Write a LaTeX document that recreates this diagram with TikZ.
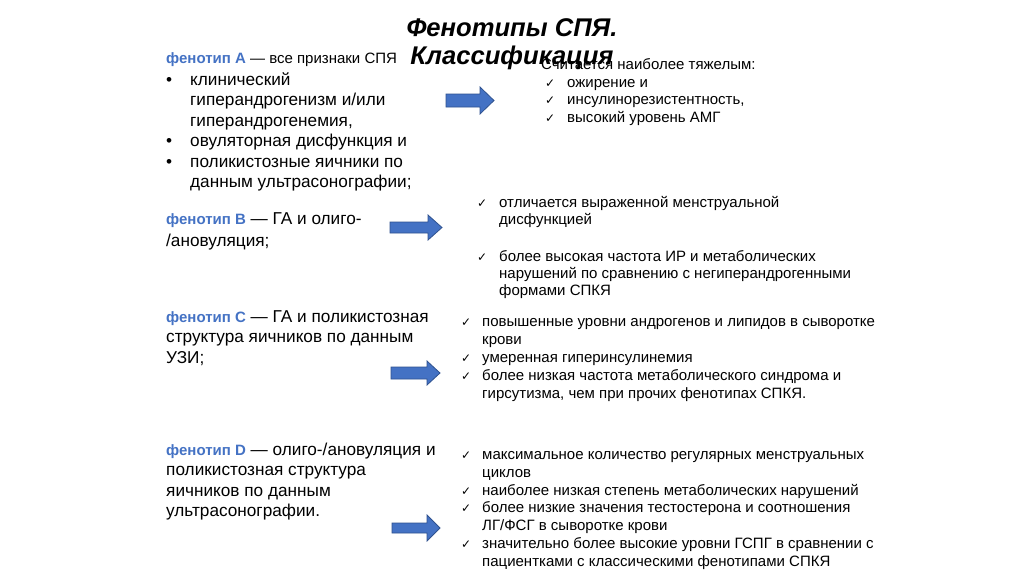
\documentclass[tikz,border=0pt]{standalone}
\usepackage{fontspec}
\setmainfont{Liberation Sans}
\newfontfamily\symfont{DejaVu Sans}
\definecolor{phen}{HTML}{4472C4}
\definecolor{arrfill}{HTML}{4472C4}
\definecolor{arrline}{HTML}{2F528F}
\newcommand{\ph}[1]{{\color{phen}\bfseries\fontsize{15}{17}\selectfont #1}}
\begin{document}
\begin{tikzpicture}[x=1pt,y=-1pt,
  big/.style={anchor=base west, inner sep=0, font=\fontsize{17.2}{20.5}\selectfont},
  small/.style={anchor=base west, inner sep=0, font=\fontsize{15}{17}\selectfont},
  chk/.style={anchor=base west, inner sep=0, font=\symfont\fontsize{12}{14}\selectfont},
  ttl/.style={anchor=base, inner sep=0, font=\bfseries\itshape\fontsize{25.6}{28}\selectfont},
  blockarrow/.style={fill=arrfill, draw=arrline, line width=0.8pt, line join=miter}]
\useasboundingbox (0,0) rectangle (1024,574);
\fill[white] (0,0) rectangle (1024,574);

% ---------- phenotype A ----------
\node[small] (hA) at (166,63) {\ph{фенотип А} — все признаки СПЯ};
\node[big] (bA1) at (166,85) {•};
\node[big] (a1) at (190,85) {клинический};
\node[big] (a2) at (190,105.5) {гиперандрогенизм и/или};
\node[big] (a3) at (190,126) {гиперандрогенемия,};
\node[big] (bA4) at (166,146.5) {•};
\node[big] (a4) at (190,146.5) {овуляторная дисфункция и};
\node[big] (bA5) at (166,167) {•};
\node[big] (a5) at (190,167) {поликистозные яичники по};
\node[big] (a6) at (190,187.5) {данным ультрасонографии;};

% right A
\node[small] (rA0) at (541,69) {Считается наиболее тяжелым:};
\node[chk] (cA1) at (545,87) {✓};
\node[small] (rA1) at (567,87) {ожирение и};
\node[chk] (cA2) at (545,104.5) {✓};
\node[small] (rA2) at (567,104.5) {инсулинорезистентность,};
\node[chk] (cA3) at (545,122) {✓};
\node[small] (rA3) at (567,122) {высокий уровень АМГ};

% ---------- phenotype B ----------
\node[big] (hB1) at (166,224) {\ph{фенотип В} — ГА и олиго-};
\node[big] (hB2) at (166,246) {/ановуляция;};
\node[chk] (cB1) at (477,207) {✓};
\node[small] (rB1) at (499,207) {отличается выраженной менструальной};
\node[small] (rB2) at (499,224) {дисфункцией};
\node[chk] (cB2) at (477,261) {✓};
\node[small] (rB3) at (499,261) {более высокая частота ИР и метаболических};
\node[small] (rB4) at (499,278) {нарушений по сравнению с негиперандрогенными};
\node[small] (rB5) at (499,295) {формами СПКЯ};

% ---------- phenotype C ----------
\node[big] (hC1) at (166,322) {\ph{фенотип С} — ГА и поликистозная};
\node[big] (hC2) at (166,342.5) {структура яичников по данным};
\node[big] (hC3) at (166,363) {УЗИ;};
\node[chk] (cC1) at (461,326) {✓};
\node[small] (rC1) at (482,326) {повышенные уровни андрогенов и липидов в сыворотке};
\node[small] (rC2) at (482,344) {крови};
\node[chk] (cC2) at (461,362) {✓};
\node[small] (rC3) at (482,362) {умеренная гиперинсулинемия};
\node[chk] (cC3) at (461,380) {✓};
\node[small] (rC4) at (482,380) {более низкая частота метаболического синдрома и};
\node[small] (rC5) at (482,398) {гирсутизма, чем при прочих фенотипах СПКЯ.};

% ---------- phenotype D ----------
\node[big] (hD1) at (166,455) {\ph{фенотип D} — олиго-/ановуляция и};
\node[big] (hD2) at (166,475.5) {поликистозная структура};
\node[big] (hD3) at (166,496) {яичников по данным};
\node[big] (hD4) at (166,516.5) {ультрасонографии.};
\node[chk] (cD1) at (461,459) {✓};
\node[small] (rD1) at (482,459) {максимальное количество регулярных менструальных};
\node[small] (rD2) at (482,477) {циклов};
\node[chk] (cD2) at (461,495) {✓};
\node[small] (rD3) at (482,495) {наиболее низкая степень метаболических нарушений};
\node[chk] (cD3) at (461,512.5) {✓};
\node[small] (rD4) at (482,512.5) {более низкие значения тестостерона и соотношения};
\node[small] (rD5) at (482,530) {ЛГ/ФСГ в сыворотке крови};
\node[chk] (cD4) at (461,548) {✓};
\node[small] (rD6) at (482,548) {значительно более высокие уровни ГСПГ в сравнении с};
\node[small] (rD7) at (482,566) {пациентками с классическими фенотипами СПКЯ};

% ---------- block arrows ----------
\draw[blockarrow] (446,94) -- (480,94) -- (480,87) -- (494,100.5) -- (480,114) -- (480,107) -- (446,107) -- cycle;
\draw[blockarrow] (390,222) -- (428,222) -- (428,215) -- (442,227.5) -- (428,240) -- (428,233) -- (390,233) -- cycle;
\draw[blockarrow] (391,367) -- (427,367) -- (427,361) -- (440,373) -- (427,385) -- (427,379) -- (391,379) -- cycle;
\draw[blockarrow] (392,523) -- (427,523) -- (427,515) -- (440,528) -- (427,541) -- (427,533) -- (392,533) -- cycle;

% ---------- title ----------
\node[ttl] (t1) at (512,36) {Фенотипы СПЯ.};
\node[ttl] (t2) at (512,64) {Классификация};
\end{tikzpicture}
\end{document}
